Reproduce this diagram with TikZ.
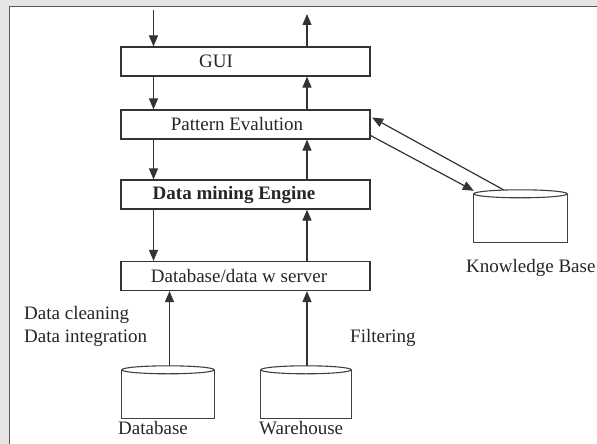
\documentclass[tikz,border=0pt]{standalone}
\usepackage{fontspec}
\setmainfont{Liberation Serif}
\usetikzlibrary{arrows.meta,calc}
\tikzset{
  box/.style={draw=black!80, line width=1.2pt, rectangle, minimum width=249pt, minimum height=29pt, inner sep=0pt},
  txt/.style={font=\fontsize{19}{21}\selectfont, text=black!85, inner sep=0pt},
  arr/.style={draw=black!80, line width=1.2pt, -{Triangle[length=11pt,width=9pt]}},
  cyl/.style={draw=black!75, line width=1.1pt},
  shell/.style={rectangle, minimum width=#1, minimum height=48pt, inner sep=0pt},
}
\begin{document}
\begin{tikzpicture}[x=1pt,y=-1pt]
% page frame
\useasboundingbox (0,0) rectangle (597,444);
\fill[white] (0,0) rectangle (597,444);
\fill[black!10] (0,0) rectangle (597,6);
\fill[black!10] (0,0) rectangle (9,444);
\draw[black!65, line width=1.3pt] (9.5,444) -- (9.5,6.5) -- (597,6.5);

% column guides for the vertical connectors
\coordinate (xl) at (153.5,0);
\coordinate (xr) at (307,0);
\coordinate (xd) at (169.5,0);

% layer boxes
\node[box] (gui) at (245.5,61.5) {};
\node[box] (pat) at (245.5,124.5) {};
\node[box] (dme) at (245.5,194.5) {};
\node[box] (srv) at (245.5,276) {};
\node[txt] at (216,61) {GUI};
\node[txt] at (237,124) {Pattern Evalution};
\node[txt, font=\fontsize{19}{21}\selectfont\bfseries] at (234,195) {Data mining Engine};
\node[txt] at (239,276) {Database/data w server};

% storage cylinders
\node[shell=93pt] (kb) at (520.5,218) {};
\node[shell=92pt] (db) at (168,394) {};
\node[shell=90pt] (wh) at (306,394) {};
\foreach \c in {kb,db,wh}{
  \draw[cyl] (\c.north west) -- (\c.south west) -- (\c.south east) -- (\c.north east);
  \draw[cyl, fill=white] let \p1=($(\c.north east)-(\c.north west)$) in
    (\c.north) ellipse [x radius=0.5*\x1, y radius=4pt];
}
\node[txt, anchor=west] at (466,268) {Knowledge Base};
\node[txt, anchor=west] at (118,428) {Database};
\node[txt, anchor=west] at (259,428) {Warehouse};

% side annotations
\node[txt, anchor=west] at (24,315) {Data cleaning};
\node[txt, anchor=west] at (24,338) {Data integration};
\node[txt, anchor=west] at (350,338) {Filtering};

% input and output at the top
\coordinate (in) at (153.5,10);
\coordinate (out) at (307,14);
\draw[arr] (in) -- (gui.north -| xl);
\draw[arr] (gui.north -| xr) -- (out);

% downward flow
\draw[arr] (gui.south -| xl) -- (pat.north -| xl);
\draw[arr] (pat.south -| xl) -- (dme.north -| xl);
\draw[arr] (dme.south -| xl) -- (srv.north -| xl);
% upward flow
\draw[arr] (pat.north -| xr) -- (gui.south -| xr);
\draw[arr] (dme.north -| xr) -- (pat.south -| xr);
\draw[arr] (srv.north -| xr) -- (dme.south -| xr);
\draw[arr] ($(db.north -| xd)+(0,-4)$) -- (srv.south -| xd);
\draw[arr] ($(wh.north -| xr)+(0,-4)$) -- (srv.south -| xr);

% exchange with the knowledge base
\coordinate (kbtop) at ($(kb.north)+(-17,-4)$);
\coordinate (kbin) at ($(kb.north west)+(0,-3)$);
\draw[arr] (kbtop) -- ($(pat.east)+(1.5,-7)$);
\draw[arr] ($(pat.east)+(0,11)$) -- (kbin);
\end{tikzpicture}
\end{document}
